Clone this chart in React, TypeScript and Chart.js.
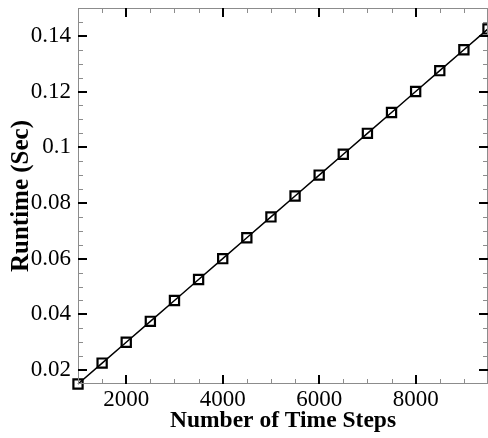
import React, { useEffect, useRef } from "react";
import { Chart, registerables } from "chart.js";

Chart.register(...registerables);

const TIME_STEPS = [1000, 1500, 2000, 2500, 3000, 3500, 4000, 4500, 5000, 5500, 6000, 6500, 7000, 7500, 8000, 8500, 9000, 9500];
const RUNTIME = [0.015, 0.0225, 0.030, 0.0375, 0.045, 0.0525, 0.060, 0.0675, 0.075, 0.0825, 0.090, 0.0975, 0.105, 0.1125, 0.120, 0.1275, 0.135, 0.1425];

const X_MAJOR = [2000, 4000, 6000, 8000];
const X_LABELS = ["2000", "4000", "6000", "8000"];
const X_MINOR = [1500, 2500, 3000, 3500, 4500, 5000, 5500, 6500, 7000, 7500, 8500, 9000];

const Y_MAJOR = [0.02, 0.04, 0.06, 0.08, 0.1, 0.12, 0.14];
const Y_LABELS = ["0.02", "0.04", "0.06", "0.08", "0.1", "0.12", "0.14"];
const Y_MINOR = [0.025, 0.03, 0.035, 0.045, 0.05, 0.055, 0.065, 0.07, 0.075, 0.085, 0.09, 0.095, 0.105, 0.11, 0.115, 0.125, 0.13, 0.135, 0.145];

const X_TITLE = "Number of Time Steps";
const Y_TITLE = "Runtime (Sec)";

const FONT = "'Liberation Serif', 'Times New Roman', serif";

const tickPlugin = {
  id: "frameTicks",
  afterDraw(chart: any) {
    const { ctx, chartArea: a, scales } = chart;
    const x = scales.x;
    const y = scales.y;
    ctx.save();
    ctx.strokeStyle = "#8c8c8c";
    ctx.lineWidth = 1;
    ctx.strokeRect(a.left + 0.5, a.top + 0.5, a.right - a.left - 1, a.bottom - a.top - 1);

    const drawX = (vals: number[], len: number, w: number, color: string) => {
      ctx.strokeStyle = color;
      ctx.lineWidth = w;
      vals.forEach((v) => {
        const px = Math.round(x.getPixelForValue(v)) + (w % 2 ? 0.5 : 0);
        ctx.beginPath();
        ctx.moveTo(px, a.bottom);
        ctx.lineTo(px, a.bottom - len);
        ctx.moveTo(px, a.top);
        ctx.lineTo(px, a.top + len);
        ctx.stroke();
      });
    };
    const drawY = (vals: number[], len: number, w: number, color: string) => {
      ctx.strokeStyle = color;
      ctx.lineWidth = w;
      vals.forEach((v) => {
        const py = Math.round(y.getPixelForValue(v)) + (w % 2 ? 0.5 : 0);
        ctx.beginPath();
        ctx.moveTo(a.left, py);
        ctx.lineTo(a.left + len, py);
        ctx.moveTo(a.right, py);
        ctx.lineTo(a.right - len, py);
        ctx.stroke();
      });
    };
    drawX(X_MINOR, 5, 1, "#8c8c8c");
    drawY(Y_MINOR, 5, 1, "#8c8c8c");
    drawX(X_MAJOR, 9, 2, "#000");
    drawY(Y_MAJOR, 9, 2, "#000");
    ctx.restore();
  },
};

export default function App() {
  const ref = useRef<HTMLCanvasElement | null>(null);
  useEffect(() => {
    if (!ref.current) return;
    const chart = new Chart(ref.current, {
      type: "line",
      data: {
        datasets: [
          {
            data: TIME_STEPS.map((t, i) => ({ x: t, y: RUNTIME[i] })),
            borderColor: "#000",
            borderWidth: 1.5,
            backgroundColor: "rgba(0,0,0,0)",
            pointStyle: "rect",
            pointRadius: 6.5,
            pointBorderWidth: 2.2,
            pointBorderColor: "#000",
            pointBackgroundColor: "rgba(0,0,0,0)",
            tension: 0,
            clip: false as any,
          },
        ],
      },
      options: {
        responsive: false,
        animation: false,
        layout: { autoPadding: false, padding: { top: 8, right: -1, left: 0, bottom: 0 } },
        plugins: { legend: { display: false }, tooltip: { enabled: false } },
        scales: {
          x: {
            type: "linear",
            min: 1000,
            max: 9500,
            grid: { display: false, drawTicks: false },
            border: { display: false },
            afterBuildTicks: (s: any) => {
              s.ticks = X_MAJOR.map((v) => ({ value: v }));
            },
            afterFit: (s: any) => {
              s.height = 54;
              s.paddingLeft = 0;
              s.paddingRight = 0;
            },
            ticks: {
              padding: 2,
              color: "#000",
              font: { family: FONT, size: 23 },
              maxRotation: 0,
              callback: (v: any) => X_LABELS[X_MAJOR.indexOf(Number(v))] ?? "",
            },
            title: {
              display: true,
              text: X_TITLE,
              color: "#000",
              font: { family: FONT, size: 23.5, weight: "bold" },
              padding: { top: 0, bottom: 3 },
            },
          },
          y: {
            type: "linear",
            min: 0.015,
            max: 0.15,
            grid: { display: false, drawTicks: false },
            border: { display: false },
            afterBuildTicks: (s: any) => {
              s.ticks = Y_MAJOR.map((v) => ({ value: v }));
            },
            afterFit: (s: any) => {
              s.width = 78;
              s.paddingTop = 0;
              s.paddingBottom = 0;
            },
            ticks: {
              padding: 7,
              color: "#000",
              font: { family: FONT, size: 23 },
              callback: (v: any) => {
                const i = Y_MAJOR.findIndex((m) => Math.abs(m - Number(v)) < 1e-9);
                return i >= 0 ? Y_LABELS[i] : "";
              },
            },
            title: {
              display: true,
              text: Y_TITLE,
              color: "#000",
              font: { family: FONT, size: 25, weight: "bold" },
              padding: { top: 7, bottom: 0 },
            },
          },
        },
      },
      plugins: [tickPlugin],
    });
    return () => chart.destroy();
  }, []);
  return (
    <div style={{ position: "absolute", left: 0, top: 0, width: 488, height: 438, background: "#fff" }}>
      <canvas ref={ref} width={488} height={438} />
    </div>
  );
}
